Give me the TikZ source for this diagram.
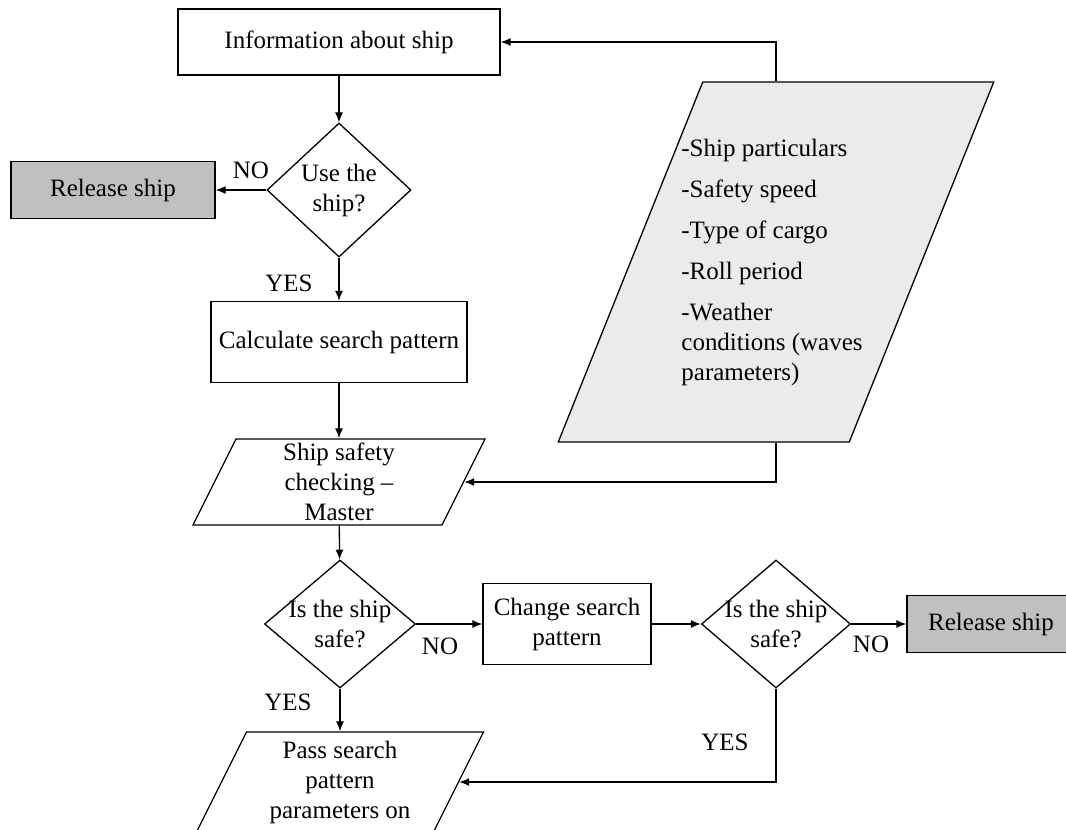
\documentclass[tikz,border=0pt]{standalone}
\usepackage{fontspec}
\setmainfont{Liberation Serif}
\usetikzlibrary{shapes.geometric,arrows.meta}
\definecolor{releasegray}{RGB}{192,192,192}
\definecolor{datagray}{RGB}{235,235,235}

\begin{document}
\begin{tikzpicture}[x=1pt,y=-1pt,line width=1.3pt,
   >={Latex[length=10pt,width=8pt]},
   font=\fontsize{25}{30}\selectfont,
   box/.style={draw,inner sep=0pt},
   decision/.style={draw,diamond,inner sep=0pt},
   io/.style={draw,trapezium,inner sep=0pt,text depth=0pt}]

\useasboundingbox (0,0) rectangle (1066,830);
\clip (0,0) rectangle (1066,830);

% main column
\node[box,minimum width=322,minimum height=66] (info) at (339,42) {Information about ship};
\node[decision,minimum width=144,minimum height=134,
   label={[align=center]center:Use the\\ship?}] (use) at (339,190) {};
\node[box,fill=releasegray,minimum width=204,minimum height=57] (rel1) at (113,190) {Release ship};
\node[box,minimum width=256,minimum height=81] (calc) at (339,342) {Calculate search pattern};
\node[io,text width=206pt,text height=86pt,
   trapezium left angle=63.43,trapezium right angle=116.57,
   label={[align=center]center:Ship safety\\checking --\\Master}] (check) at (339,482) {};

% ship data
\node[io,fill=datagray,text width=146.5pt,text height=360pt,
   trapezium left angle=68.13,trapezium right angle=111.87,
   label={[align=left,xshift=-4]center:-Ship particulars\\[11pt]-Safety speed\\[11pt]-Type of cargo\\[11pt]-Roll period\\[11pt]-Weather\\conditions (waves\\parameters)}] (data) at (776,262) {};

% safety checks
\node[decision,minimum width=151,minimum height=128,
   label={[align=center]center:Is the ship\\safe?}] (safe1) at (340,624) {};
\node[box,minimum width=168,minimum height=81,align=center] (change) at (567,624) {Change search\\pattern};
\node[decision,minimum width=149,minimum height=128,
   label={[align=center]center:Is the ship\\safe?}] (safe2) at (776,624) {};
\node[box,fill=releasegray,minimum width=168,minimum height=57] (rel2) at (991,624) {Release ship};
\node[io,text width=187pt,text height=100pt,
   trapezium left angle=63.43,trapezium right angle=116.57,
   label={[align=center]center:Pass search\\pattern\\parameters on}] (pass) at (340,782) {};

% answers
\node (no1) at (251,170) {NO};
\node (yes1) at (289,283) {YES};
\node (no2) at (440,646) {NO};
\node (yes2) at (288,702) {YES};
\node (no3) at (871,644) {NO};
\node (yes3) at (725,742) {YES};

% arrows
\draw[->] (info) -- (use);
\draw[->] (use) -- (rel1);
\draw[->] (use) -- (calc);
\draw[->] (calc) -- (check);
\draw[->] (data.north) |- (info);
\draw[->] (data.south) |- (check);
\draw[->] (check) -- (safe1);
\draw[->] (safe1) -- (change);
\draw[->] (change) -- (safe2);
\draw[->] (safe2) -- (rel2);
\draw[->] (safe1) -- (pass);
\draw[->] (safe2) |- (pass);

\end{tikzpicture}
\end{document}
